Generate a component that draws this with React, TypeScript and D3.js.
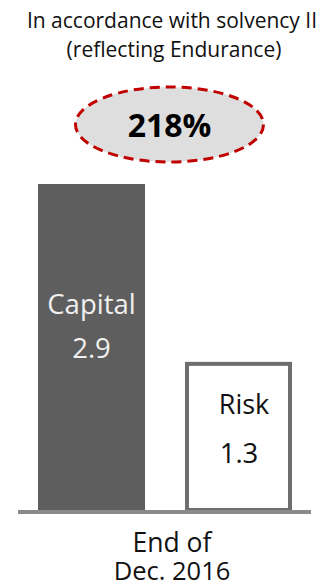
import React from "react";
import * as d3 from "d3";

const categories = ["Capital", "Risk"];
const values = [2.9, 1.3];
const valueLabels = ["2.9", "1.3"];
const titleLines = ["In accordance with solvency II", "(reflecting Endurance)"];
const ratioLabel = "218%";
const xLabelLines = ["End of", "Dec. 2016"];

const W = 322;
const H = 587;
const FONT = "'Open Sans', 'Noto Sans', sans-serif";

export default function App() {
  const x = d3.scaleBand<string>().domain(categories).range([38, 292]).paddingInner(0.272).paddingOuter(0);
  const y = d3.scaleLinear().domain([0, 2.9]).range([510, 184]);
  const bw = x.bandwidth();
  const cx0 = x("Capital")! + bw / 2;
  const cx1 = x("Risk")! + bw / 2;

  return (
    <svg width={W} height={H} style={{ position: "absolute", left: 0, top: 0 }} fontFamily={FONT}>
      <rect x={0} y={0} width={W} height={H} fill="#fff" />
      <text x={172} y={28} textAnchor="middle" fontSize={21} fill="#111">{titleLines[0]}</text>
      <text x={174} y={57} textAnchor="middle" fontSize={21} fill="#111">{titleLines[1]}</text>
      <ellipse cx={169.5} cy={124.5} rx={94} ry={37.5} fill="#dedede" stroke="#c00000" strokeWidth={3} strokeDasharray="10 6" />
      <text x={169.5} y={137} textAnchor="middle" fontSize={32} fontWeight="bold" fill="#000">
        {ratioLabel}
      </text>

      {/* Capital bar */}
      <rect x={x("Capital")} y={y(values[0])} width={bw} height={y(0) - y(values[0])} fill="#5e5e5e" />
      <text x={cx0} y={314} textAnchor="middle" fontSize={27.5} fill="#f0f0f0">
        {categories[0]}
      </text>
      <text x={cx0} y={358} textAnchor="middle" fontSize={27.5} fill="#f0f0f0">
        {valueLabels[0]}
      </text>

      {/* Risk bar */}
      <rect x={x("Risk")! + 2} y={y(values[1])} width={bw - 4} height={y(0) - y(values[1])} fill="#fff" stroke="#6e6e6e" strokeWidth={4} />
      <text x={cx1 + 5.5} y={414} textAnchor="middle" fontSize={27} fill="#111">
        {categories[1]}
      </text>
      <text x={cx1 + 0.5} y={463} textAnchor="middle" fontSize={27.5} fill="#111">
        {valueLabels[1]}
      </text>

      {/* baseline */}
      <line x1={18} x2={311} y1={512} y2={512} stroke="#8a8a8a" strokeWidth={4} />

      <text textAnchor="middle" fill="#111">
        <tspan x={172} y={552} fontSize={26.5}>{xLabelLines[0]}</tspan>
        <tspan x={172} y={580} fontSize={25.5}>{xLabelLines[1]}</tspan>
      </text>
    </svg>
  );
}
